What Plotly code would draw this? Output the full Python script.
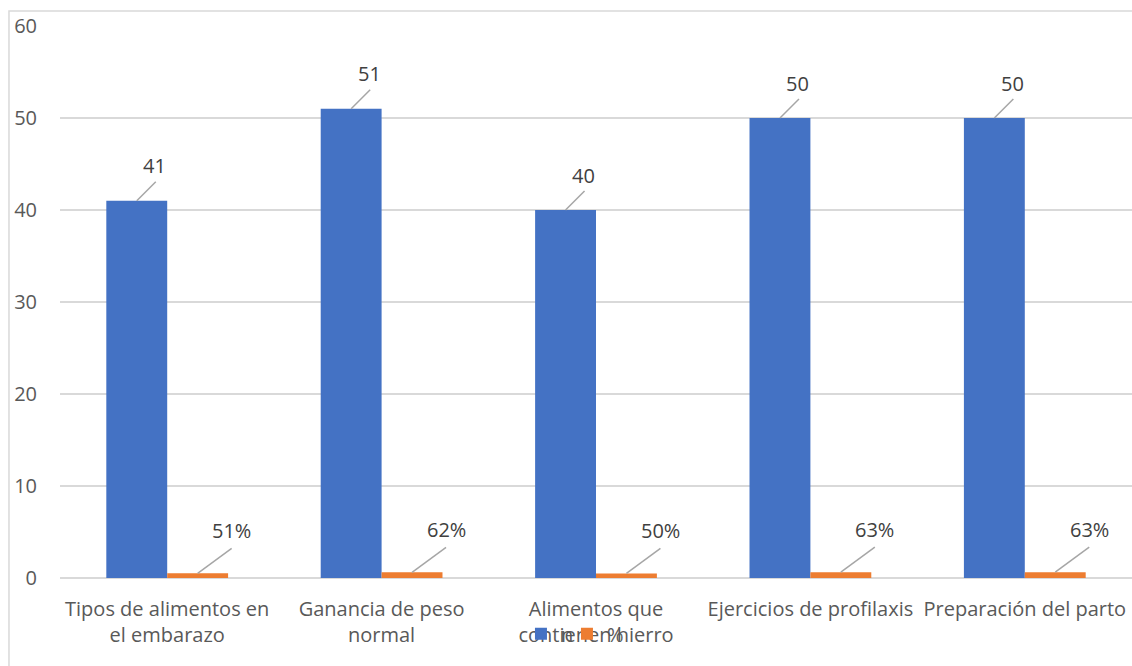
import plotly.graph_objects as go

categories = [
    "Tipos de alimentos en<br>el embarazo",
    "Ganancia de peso<br>normal",
    "Alimentos que<br>contienen hierro",
    "Ejercicios de profilaxis",
    "Preparación del parto",
]
n_values = [41, 51, 40, 50, 50]
pct_values = [0.51, 0.62, 0.50, 0.63, 0.63]
pct_labels = ["51%", "62%", "50%", "63%", "63%"]
y_ticks = [0, 10, 20, 30, 40, 50, 60]

BLUE = "#4472C4"
ORANGE = "#ED7D31"
GRID = "#D9D9D9"
FONT = "Open Sans, Carlito, Calibri, sans-serif"
FS = 20

bar_w = 0.284
xs = list(range(len(categories)))
x_n = [i - bar_w / 2 for i in xs]
x_p = [i + bar_w / 2 for i in xs]

fig = go.Figure()
fig.add_trace(go.Bar(x=x_n, y=n_values, width=bar_w, name="n", legendwidth=1,
                     marker=dict(color=BLUE, line=dict(width=0))))
fig.add_trace(go.Bar(x=x_p, y=pct_values, width=bar_w, name="%", legendwidth=30,
                     marker=dict(color=ORANGE, line=dict(width=0))))

shapes = []
annotations = []
# leader lines and data labels for n
for x, v in zip(x_n, n_values):
    shapes.append(dict(type="line", xref="x", yref="y",
                       xsizemode="pixel", ysizemode="pixel",
                       xanchor=x, yanchor=v, x0=0, x1=19, y0=0, y1=19,
                       line=dict(color="#A6A6A6", width=1.5)))
    annotations.append(dict(x=x, y=v, xref="x", yref="y", text=str(v),
                            showarrow=False, xshift=18, yshift=35,
                            font=dict(family=FONT, size=FS, color="#404040")))
# leader lines and data labels for %
for x, v, lab in zip(x_p, pct_values, pct_labels):
    shapes.append(dict(type="line", xref="x", yref="y",
                       xsizemode="pixel", ysizemode="pixel",
                       xanchor=x, yanchor=v, x0=0, x1=34, y0=0, y1=25,
                       line=dict(color="#A6A6A6", width=1.5)))
    annotations.append(dict(x=x, y=v, xref="x", yref="y", text=lab,
                            showarrow=False, xshift=34, yshift=43,
                            font=dict(family=FONT, size=FS, color="#404040")))

# chart frame
shapes.append(dict(type="rect", xref="paper", yref="paper",
                   x0=-0.0476, x1=1.2, y0=-0.3, y1=1.027,
                   line=dict(color=GRID, width=1.5), fillcolor="rgba(0,0,0,0)",
                   layer="below"))

fig.update_layout(
    width=1132, height=666,
    margin=dict(l=60, r=0, t=26, b=88),
    paper_bgcolor="white", plot_bgcolor="white",
    barmode="overlay",
    font=dict(family=FONT, size=FS, color="#595959"),
    showlegend=True,
    legend=dict(orientation="h", x=0.430, xanchor="left", y=-0.101,
                yanchor="middle", bgcolor="rgba(0,0,0,0)",
                font=dict(family=FONT, size=FS, color="#595959"),
                itemwidth=30, tracegroupgap=0),
    shapes=shapes,
    annotations=annotations,
)
fig.update_xaxes(range=[-0.5, 4.5], tickmode="array", tickvals=xs,
                 ticktext=categories, showgrid=False, zeroline=False,
                 showline=False, ticks="", ticklabelstandoff=17,
                 tickfont=dict(size=FS))
fig.update_yaxes(range=[0, 60], tickmode="array", tickvals=y_ticks,
                 showgrid=True, gridcolor=GRID, gridwidth=1.5,
                 zeroline=True, zerolinecolor=GRID, zerolinewidth=1.5,
                 showline=False, ticks="", ticklabelstandoff=22,
                 tickfont=dict(size=FS))

fig.write_html("out.html")
